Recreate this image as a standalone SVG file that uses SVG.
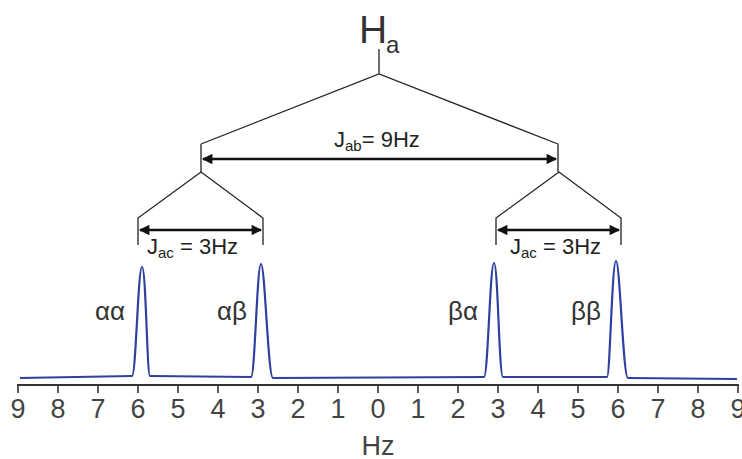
<svg xmlns="http://www.w3.org/2000/svg" width="742" height="459" viewBox="0 0 742 459">
<style>
.t{font-family:"Liberation Sans",Arial,sans-serif;fill:#333}
.tree{stroke:#222;stroke-width:1.3;fill:none}
.arr{stroke:#111;stroke-width:2.6;fill:none;marker-start:url(#ah);marker-end:url(#ah)}
.tick{stroke:#333;stroke-width:1.6}
.num{font-family:"Liberation Sans",Arial,sans-serif;fill:#444;font-size:27px;text-anchor:middle}
.gr{font-family:"Liberation Sans",Arial,sans-serif;fill:#333;font-size:26px;text-anchor:middle}
.j{font-family:"Liberation Sans",Arial,sans-serif;fill:#222;font-size:22px}
</style>
<defs>
<marker id="ah" viewBox="0 0 10 10" refX="9" refY="5" markerWidth="5" markerHeight="4" orient="auto-start-reverse" markerUnits="strokeWidth">
<path d="M0,0 L10,5 L0,10 z" fill="#111"/>
</marker>
</defs>
<rect width="742" height="459" fill="#fff"/>

<g id="title">
<text class="t" x="359" y="43" font-size="39" fill="#111">H</text>
<text class="t" x="386" y="53" font-size="24" fill="#111">a</text>
</g>

<g id="connectors">
<path class="tree" d="M379,49 V74 M201,144 L379,74 L558,144 M201,144 V172 M558,144 V172"/>
<path class="tree" d="M138,245 V218 L201,172 L263,218 V245"/>
<path class="tree" d="M496,245 V218 L559,172 L621,218 V245"/>
<line class="arr" x1="203" y1="159" x2="556" y2="159"/>
<line class="arr" x1="140" y1="230" x2="261" y2="230"/>
<line class="arr" x1="498" y1="230" x2="619" y2="230"/>
</g>

<g id="jab">
<text class="j" x="334" y="147">J<tspan font-size="15" dy="4">ab</tspan><tspan dy="-4">= 9Hz</tspan></text>
</g>
<g id="jac-left">
<text class="j" x="147" y="254">J<tspan font-size="15" dy="4">ac</tspan><tspan dy="-4"> = 3Hz</tspan></text>
</g>
<g id="jac-right">
<text class="j" x="510" y="254">J<tspan font-size="15" dy="4">ac</tspan><tspan dy="-4"> = 3Hz</tspan></text>
</g>

<g id="spectrum">
<path d="M20,378 L132,376 C136,376 138,267 142,267 C146,267 147,376 150,376 L251,377 C255,377 257,264 261,264 C265,264 268,378 273,378 L484,377 C488,377 490,263 494,263 C498,263 499,377 503,377 L607,377 C610,377 612,261 616,261 C620,261 623,378 628,378 L737,379" fill="none" stroke="#2e41a0" stroke-width="2.2" stroke-linejoin="round"/>
</g>

<g id="labels">
<text class="gr" x="110" y="320">αα</text>
<text class="gr" x="232" y="320">αβ</text>
<text class="gr" x="463" y="320">βα</text>
<text class="gr" x="586" y="320">ββ</text>
</g>

<g id="axis">
<line x1="17" y1="385" x2="739" y2="385" stroke="#333" stroke-width="2"/>
<path class="tick" d="M18,385 v8 M58,385 v8 M98,385 v8 M138,385 v8 M178,385 v8 M218,385 v8 M258,385 v8 M298,385 v8 M338,385 v8 M378,385 v8 M418,385 v8 M458,385 v8 M498,385 v8 M538,385 v8 M578,385 v8 M618,385 v8 M658,385 v8 M698,385 v8 M738,385 v8"/>
<text class="num" x="18" y="418">9</text>
<text class="num" x="58" y="418">8</text>
<text class="num" x="98" y="418">7</text>
<text class="num" x="138" y="418">6</text>
<text class="num" x="178" y="418">5</text>
<text class="num" x="218" y="418">4</text>
<text class="num" x="258" y="418">3</text>
<text class="num" x="298" y="418">2</text>
<text class="num" x="338" y="418">1</text>
<text class="num" x="378" y="418">0</text>
<text class="num" x="418" y="418">1</text>
<text class="num" x="458" y="418">2</text>
<text class="num" x="498" y="418">3</text>
<text class="num" x="538" y="418">4</text>
<text class="num" x="578" y="418">5</text>
<text class="num" x="618" y="418">6</text>
<text class="num" x="658" y="418">7</text>
<text class="num" x="698" y="418">8</text>
<text class="num" x="738" y="418">9</text>
<text class="num" x="378" y="455">Hz</text>
</g>
</svg>
